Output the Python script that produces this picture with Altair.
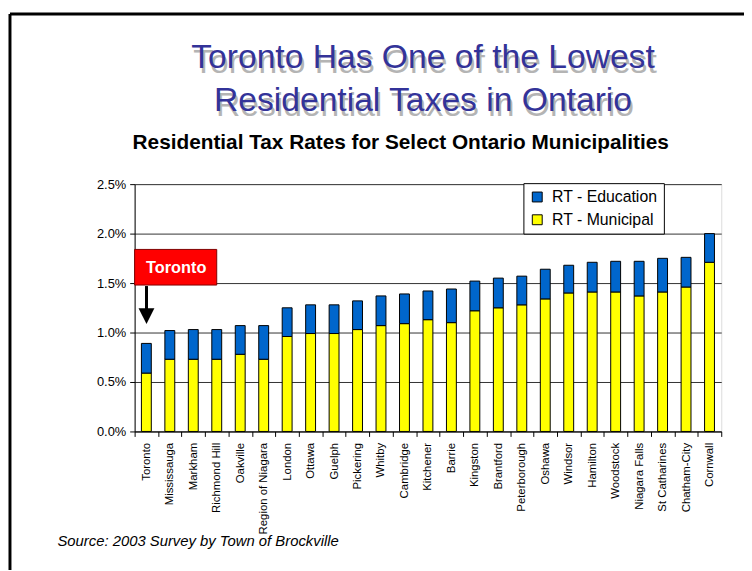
import altair as alt
import pandas as pd

cities = ["Toronto", "Mississauga", "Markham", "Richmond Hill", "Oakville",
          "Region of Niagara", "London", "Ottawa", "Guelph", "Pickering",
          "Whitby", "Cambridge", "Kitchener", "Barrie", "Kingston",
          "Brantford", "Peterborough", "Oshawa", "Windsor", "Hamilton",
          "Woodstock", "Niagara Falls", "St Catharines", "Chatham-City", "Cornwall"]
municipal = [0.59, 0.73, 0.73, 0.73, 0.78, 0.73, 0.96, 0.99, 0.99, 1.03,
             1.07, 1.09, 1.13, 1.10, 1.22, 1.25, 1.28, 1.34, 1.40, 1.41,
             1.41, 1.37, 1.41, 1.46, 1.71]
education = [0.30, 0.29, 0.30, 0.30, 0.29, 0.34, 0.29, 0.29, 0.29, 0.29,
             0.30, 0.30, 0.29, 0.34, 0.30, 0.30, 0.29, 0.30, 0.28, 0.30,
             0.31, 0.35, 0.34, 0.30, 0.29]
series = ["RT - Education", "RT - Municipal"]
colors = ["#0066CC", "#FFFF00"]
y_ticks = [0.0, 0.5, 1.0, 1.5, 2.0, 2.5]
title_lines = ["Toronto Has One of the Lowest", "Residential Taxes in Ontario"]
subtitle_text = "Residential Tax Rates for Select Ontario Municipalities"
source_text = "Source:  2003 Survey by Town of Brockville"

rows = []
for c, m, e in zip(cities, municipal, education):
    rows.append({"city": c, "type": "RT - Municipal", "rate": m, "ord": 0})
    rows.append({"city": c, "type": "RT - Education", "rate": e, "ord": 1})
df = pd.DataFrame(rows)

FONT = "Liberation Sans"

bars = alt.Chart(df).mark_bar(size=10, stroke="black", strokeWidth=1, opacity=1).encode(
    x=alt.X("city:N", sort=cities,
            scale=alt.Scale(paddingInner=0, paddingOuter=0),
            axis=alt.Axis(title=None, labelAngle=270, labelFontSize=11.5, labelFont=FONT,
                          labelColor="black", tickBand="extent", tickSize=5,
                          tickColor="black", domainColor="black", labelPadding=6,
                          grid=False)),
    y=alt.Y("rate:Q", stack="zero", scale=alt.Scale(domain=[0, 2.5], nice=False),
            axis=alt.Axis(title=None, values=y_ticks,
                          labelExpr="format(datum.value, '.1f') + '%'",
                          labelFontSize=13, labelFont=FONT, labelColor="black",
                          tickSize=5, tickColor="black", domainColor="black",
                          labelPadding=4, grid=True, gridColor="#333333", gridWidth=1)),
    color=alt.Color("type:N", scale=alt.Scale(domain=series, range=colors),
                    legend=alt.Legend(orient="none", legendX=393, legendY=-1, title=None,
                                      fillColor="white", strokeColor="black", padding=6,
                                      symbolType="square", symbolSize=100,
                                      symbolStrokeColor="black", symbolStrokeWidth=1,
                                      symbolOpacity=1, labelFontSize=16, labelFont=FONT,
                                      labelColor="black", rowPadding=7, labelOffset=7)),
    order=alt.Order("ord:Q"),
)

ann = pd.DataFrame({"label": ["Toronto"]})

box = alt.Chart(ann).mark_rect(fill="#FF0000", stroke="#800000", strokeWidth=1).encode(
    x=alt.value(0), x2=alt.value(83), y=alt.value(66), y2=alt.value(102))
box_text = alt.Chart(ann).mark_text(font=FONT, fontSize=16.5, fontWeight="bold",
                                    color="white", align="center", baseline="middle").encode(
    x=alt.value(42), y=alt.value(85), text="label:N")
arrow = alt.Chart(ann).mark_rule(color="black", strokeWidth=3).encode(
    x=alt.value(12), y=alt.value(103), y2=alt.value(127))
head = alt.Chart(ann).mark_point(shape="M-1,-1L1,-1L0,1Z", filled=True, size=256,
                                 color="black", opacity=1).encode(
    x=alt.value(12), y=alt.value(133.5))

src = pd.DataFrame({"label": [source_text]})
source = alt.Chart(src).mark_text(font=FONT, fontSize=15, fontStyle="italic",
                                  color="black", align="left", baseline="alphabetic").encode(
    x=alt.value(-78), y=alt.value(366), text="label:N")

sub = pd.DataFrame({"label": [subtitle_text]})
subtitle = alt.Chart(sub).mark_text(font=FONT, fontSize=21, fontWeight="bold",
                                    color="black", align="center", baseline="alphabetic").encode(
    x=alt.value(269), y=alt.value(-36), text="label:N")

# soft drop shadow behind the two title lines
shadow1 = alt.Chart(pd.DataFrame({"label": [title_lines[0]]})).mark_text(
    font=FONT, fontSize=34, color="#B4B4B4", align="center", baseline="alphabetic").encode(
    x=alt.value(293.5), y=alt.value(-112.5), text="label:N")
shadow2 = alt.Chart(pd.DataFrame({"label": [title_lines[1]]})).mark_text(
    font=FONT, fontSize=34, color="#B4B4B4", align="center", baseline="alphabetic").encode(
    x=alt.value(293.5), y=alt.value(-68.5), text="label:N")

frame_top = alt.Chart(ann).mark_rule(color="black", strokeWidth=3).encode(
    x=alt.value(-126), x2=alt.value(620), y=alt.value(-172))
frame_left = alt.Chart(ann).mark_rule(color="black", strokeWidth=3).encode(
    x=alt.value(-126), y=alt.value(-172), y2=alt.value(390))

chart = alt.layer(shadow1, shadow2, bars, box, box_text, arrow, head, source, subtitle,
                  frame_top, frame_left).properties(
    width=593, height=250,
    autosize=alt.AutoSizeParams(type="none"),
    padding={"left": 128, "top": 175, "right": 23, "bottom": 138},
    title=alt.TitleParams(
        text=title_lines,
        font=FONT, fontSize=34, fontWeight="normal", color="#333399", lineHeight=44,
        anchor="middle", offset=0, dy=107, dx=-5),
).configure_view(stroke="black", strokeWidth=1).configure(background="white")

chart.save("out.html", embed_options={"renderer": "svg", "actions": False})
